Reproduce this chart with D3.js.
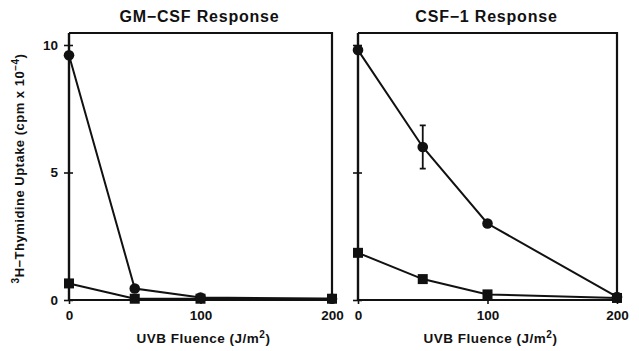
<!DOCTYPE html>
<html>
<head>
<meta charset="utf-8">
<script src="https://cdn.jsdelivr.net/npm/d3@7"></script>
<style>
  body { margin: 0; background: #fff; }
  svg text { font-family: "Liberation Sans", Arial, sans-serif; font-weight: bold; fill: #111; }
</style>
</head>
<body>
<div id="wrapper"></div>
<script>
// data
const fluence = [0, 50, 100, 200]
const xTicks = [0, 100, 200]
const yTicks = [0, 5, 10]

const gmCircle = [9.6, 0.45, 0.1, 0.05]
const gmSquare = [0.65, 0.05, 0.05, 0.05]

const csfCircle = [9.8, 6.0, 3.0, 0.12]
const csfCircleErr = [0, 0.85, 0, 0]
const csfSquare = [1.85, 0.82, 0.22, 0.08]

const titles = ["GM\u2212CSF Response", "CSF\u22121 Response"]

const panels = [
  {title: titles[0], circle: gmCircle, circleErr: null, square: gmSquare, left: 69, right: 332, yLabels: true},
  {title: titles[1], circle: csfCircle, circleErr: csfCircleErr, square: csfSquare, left: 358, right: 617, yLabels: false},
]

const width = 639
const height = 351
const plotTop = 33
const plotBottom = 300
const ink = "#111"

const svg = d3.select("#wrapper")
  .append("svg")
  .attr("width", width)
  .attr("height", height)

const yScale = d3.scaleLinear()
  .domain([0, 10])
  .range([plotBottom, 45])

const drawPanel = p => {
  const xScale = d3.scaleLinear()
    .domain([0, 200])
    .range([p.left, p.right])

  const g = svg.append("g")

  // frame
  g.append("path")
    .attr("d", `M${p.left},${plotTop} L${p.right},${plotTop} L${p.right},${plotBottom} L${p.left},${plotBottom}`)
    .attr("fill", "none")
    .attr("stroke", ink)
    .attr("stroke-width", 2.2)

  // y axis, cross ticks
  const yAxis = g.append("g")
    .attr("transform", `translate(${p.left},0)`)
    .call(d3.axisLeft(yScale).tickValues(yTicks).tickSize(5).tickPadding(6)
      .tickFormat(p.yLabels ? d3.format("d") : ""))
  yAxis.select(".domain")
    .attr("d", `M0,${plotTop}V${plotBottom}`)
    .attr("stroke", ink)
    .attr("stroke-width", 2.4)
  yAxis.selectAll(".tick line")
    .attr("x1", 4)
    .attr("x2", -5)
    .attr("stroke", ink)
    .attr("stroke-width", 1.6)
  yAxis.selectAll(".tick text")
    .attr("fill", ink)
    .style("font-size", "13.5px")
    .attr("dy", "0.3em")

  // x axis
  const xAxis = g.append("g")
    .attr("transform", `translate(0,${plotBottom})`)
    .call(d3.axisBottom(xScale).tickValues(xTicks).tickSize(4).tickPadding(6))
  xAxis.select(".domain").remove()
  xAxis.selectAll(".tick line")
    .attr("stroke", ink)
    .attr("stroke-width", 1.6)
  xAxis.selectAll(".tick text")
    .attr("fill", ink)
    .style("font-size", "13.5px")

  // x label
  const xl = g.append("text")
    .attr("x", (p.left + p.right) / 2 + 3)
    .attr("y", 343)
    .attr("text-anchor", "middle")
    .style("font-size", "13.5px")
    .style("letter-spacing", "0.5px")
  xl.append("tspan").text("UVB Fluence (J/m")
  xl.append("tspan").attr("dy", -5).style("font-size", "10px").text("2")
  xl.append("tspan").attr("dy", 5).text(")")

  // title
  g.append("text")
    .attr("x", (p.left + p.right) / 2 - 1)
    .attr("y", 22)
    .attr("text-anchor", "middle")
    .style("font-size", "16px")
    .style("letter-spacing", "0.8px")
    .text(p.title)

  const lineGenerator = d3.line()
    .x((d, i) => xScale(fluence[i]))
    .y(d => yScale(d))

  ;[p.square, p.circle].forEach(series => {
    g.append("path")
      .attr("d", lineGenerator(series))
      .attr("fill", "none")
      .attr("stroke", ink)
      .attr("stroke-width", 2)
  })

  if (p.circleErr) {
    p.circleErr.forEach((e, i) => {
      if (!e) return
      const x = xScale(fluence[i])
      const y1 = yScale(p.circle[i] + e)
      const y2 = yScale(p.circle[i] - e)
      g.append("path")
        .attr("d", `M${x},${y1}V${y2}M${x - 3},${y1}H${x + 3}M${x - 3},${y2}H${x + 3}`)
        .attr("fill", "none")
        .attr("stroke", ink)
        .attr("stroke-width", 1.8)
    })
  }

  g.append("g").selectAll("rect")
    .data(p.square)
    .join("rect")
    .attr("x", (d, i) => xScale(fluence[i]) - 5)
    .attr("y", d => yScale(d) - 5)
    .attr("width", 10)
    .attr("height", 10)
    .attr("fill", ink)

  g.append("g").selectAll("circle")
    .data(p.circle)
    .join("circle")
    .attr("cx", (d, i) => xScale(fluence[i]))
    .attr("cy", d => yScale(d))
    .attr("r", 5.3)
    .attr("fill", ink)
}

panels.forEach(drawPanel)

// y label
const yl = svg.append("text")
  .attr("transform", `translate(24,${(plotTop + plotBottom) / 2 + 2}) rotate(-90)`)
  .attr("text-anchor", "middle")
  .style("font-size", "13px")
  .style("letter-spacing", "0.5px")
yl.append("tspan").attr("dy", -5).style("font-size", "10px").text("3")
yl.append("tspan").attr("dy", 5).text("H\u2212Thymidine Uptake (cpm x 10")
yl.append("tspan").attr("dy", -5).style("font-size", "10px").text("\u22124")
yl.append("tspan").attr("dy", 5).text(")")
</script>
</body>
</html>
